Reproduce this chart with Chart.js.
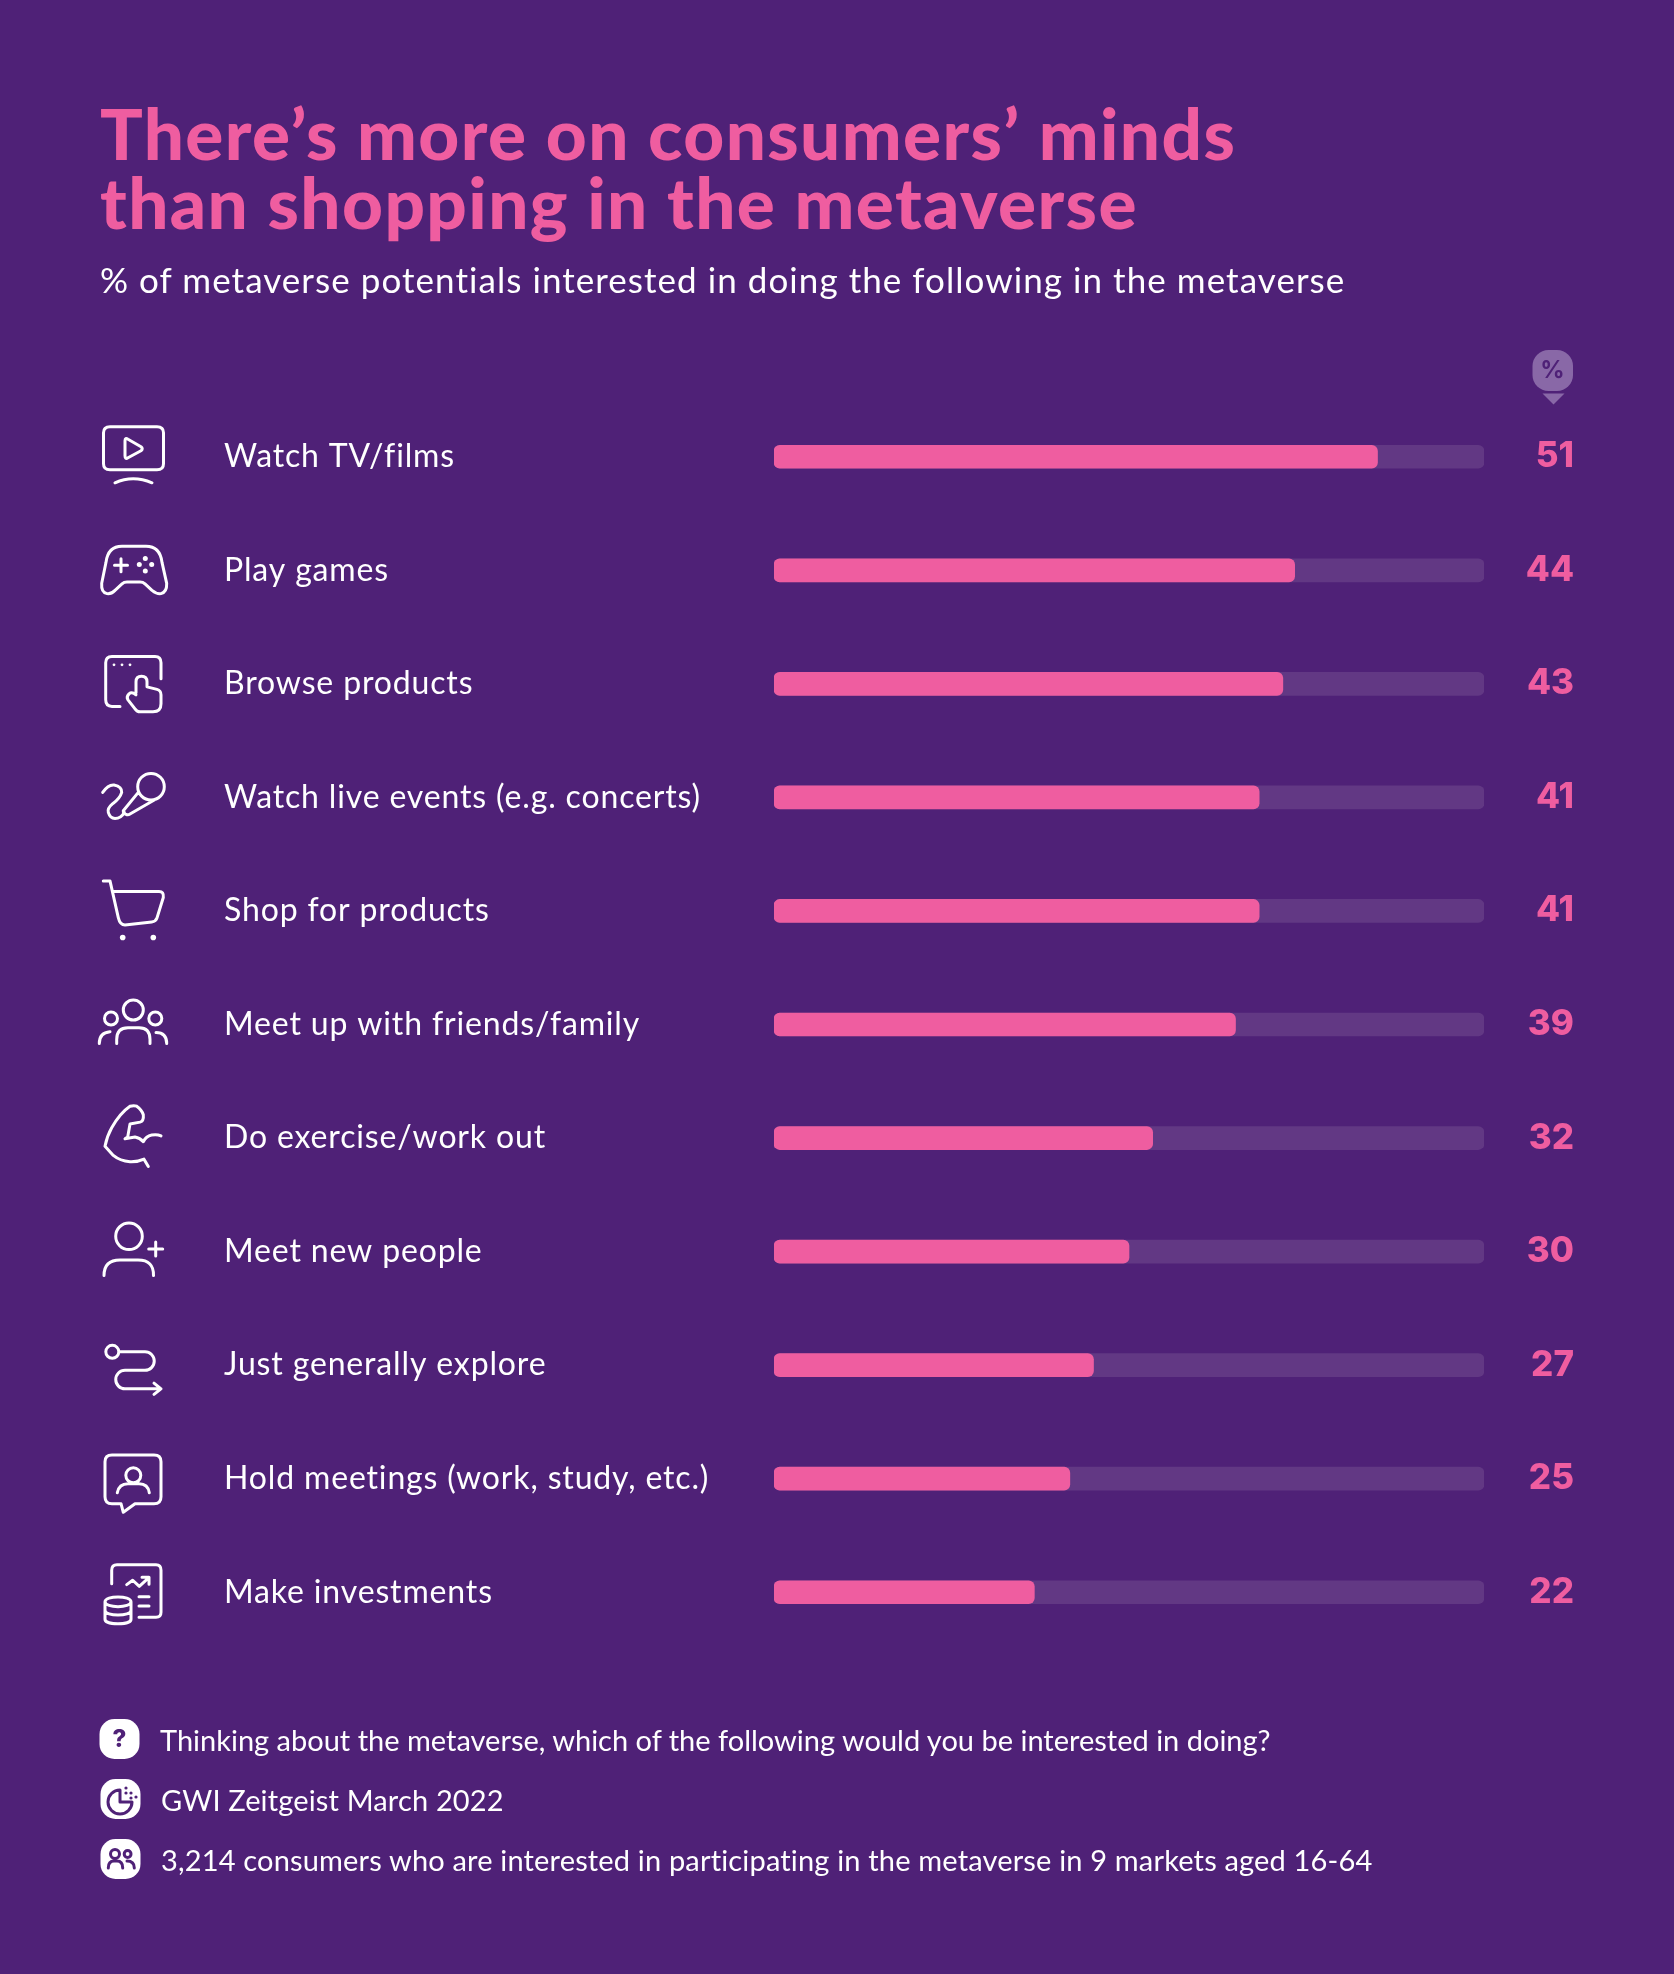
<!DOCTYPE html>
<html>
<head>
<meta charset="utf-8">
<script src="https://cdn.jsdelivr.net/npm/chart.js@4"></script>
<style>
body { margin: 0; background: #4f2177; }
#page { position: relative; width: 1674px; height: 1974px; overflow: hidden; background: #4f2177; color: #fff; font-family: Lato, sans-serif; }
canvas { position: absolute; left: 0; top: 0; }
h1 { position: absolute; left: 100px; top: 98px; margin: 0; font-size: 71px; line-height: 69px; letter-spacing: 1.4px; font-weight: 900; color: #ef5da0; white-space: nowrap; }
#sub { position: absolute; left: 100px; top: 256px; font-size: 35px; line-height: 46px; letter-spacing: 1.05px; white-space: nowrap; }
.note { position: absolute; left: 160px; font-size: 29px; line-height: 36px; white-space: nowrap; }
</style>
</head>
<body>
<div id="page">
<canvas id="chart" width="1674" height="1974"></canvas>
<h1>There’s more on consumers’ minds<br>than shopping in the metaverse</h1>
<div id="sub">% of metaverse potentials interested in doing the following in the metaverse</div>
<div class="note" style="top:1722px">Thinking about the metaverse, which of the following would you be interested in doing?</div>
<div class="note" style="top:1782px;left:161px;letter-spacing:0.15px">GWI Zeitgeist March 2022</div>
<div class="note" style="top:1842px;left:161px;letter-spacing:0.17px">3,214 consumers who are interested in participating in the metaverse in 9 markets aged 16-64</div>
</div>
<script>
var categories = ['Watch TV/films', 'Play games', 'Browse products', 'Watch live events (e.g. concerts)', 'Shop for products', 'Meet up with friends/family', 'Do exercise/work out', 'Meet new people', 'Just generally explore', 'Hold meetings (work, study, etc.)', 'Make investments'];
var values = [51, 44, 43, 41, 41, 39, 32, 30, 27, 25, 22];
var trackValues = [60, 60, 60, 60, 60, 60, 60, 60, 60, 60, 60];

// line icons, one per row, origin is x=100 and the row centre
var icons = [
    'M10,-30 H57 Q63.5,-30 63.5,-24 V7 Q63.5,13 57,13 H10 Q3.5,13 3.5,7 V-24 Q3.5,-30 10,-30 Z M25,-16 Q25,-19.5 28,-17.5 L41,-10 Q43.5,-8 41,-6 L28,1 Q25,3 25,-1 Z M15,26 Q33,18 52,26',
    'M7,23.3 Q1,22 1.7,13 L6,-8 Q8,-24 22,-24 H46 Q60,-24 62,-8 L66.7,13 Q67,22 61,23.3 Q57,24 52,20 L45,13.5 Q43,11.7 40,11.7 H27 Q24,11.7 22,13.5 L15,20 Q11,24 7,23.3 Z M14.5,-5 H27.5 M21,-11.5 V1.5',
    'M20,22.6 H12 Q5.7,22.6 5.7,16 V-21 Q5.7,-27.4 12,-27.4 H55 Q61,-27.4 61,-21 V-5 M36,9 V-2 Q36,-7.5 41.5,-7.5 Q47,-7.5 47,-2 V3 L57,5.5 Q61,6.5 61,11 V20 Q61,28 53,28 H40 Q37,28 35,25 L28,16 Q26,13 29,10 Q32,7.5 36,11',
    'M64.3,-10.7 A13.3,13.3 0 1 1 37.7,-10.7 A13.3,13.3 0 1 1 64.3,-10.7 Z M38.3,-5 L23.3,13.3 Q23,16 26,17 Q28,18 30,16.6 L56,1.6 M2.7,-5 Q8,-13 14,-12.5 Q22,-11 21.7,-5 Q20,1 13,6 Q7,11 8.3,15 Q10,21 15,21 Q21,21 24.3,15',
    'M3.3,-30 H10 L18.3,6.6 Q20,14 25,14 L51.7,11 Q56,10.5 57,7 L63.3,-13.4 Q64,-19.5 59,-19.5 H13.3',
    'M43.3,-14.5 A10,10 0 1 1 23.3,-14.5 A10,10 0 1 1 43.3,-14.5 Z M17.5,-6 A6.5,6.5 0 1 1 4.5,-6 A6.5,6.5 0 1 1 17.5,-6 Z M61.8,-6 A6.5,6.5 0 1 1 48.8,-6 A6.5,6.5 0 1 1 61.8,-6 Z M16.7,19 V15 Q16.7,3.2 28,3.2 H39 Q50,3.2 50,15 V19 M-0.7,19 Q-0.7,8 10,7.2 M56,8 Q66.7,8 66.7,19',
    'M48.3,28.5 L44,21.1 Q38,24 30,23.7 Q20,23 13.3,17.4 L5,8.2 Q7,-2 11.7,-10.3 Q20,-25 30,-31.8 Q34,-33 36.7,-31.8 Q42,-28 43.3,-23.3 Q44,-17 40,-15.9 L30,-14 L27.7,-1 L25,0.8 L35,-1 Q40,0 43.3,3.7 Q46,-2 51.7,-3 Q57,-4 61,-2.2',
    'M42.3,-15.3 A13.3,13.3 0 1 1 15.7,-15.3 A13.3,13.3 0 1 1 42.3,-15.3 Z M4,24 Q4,8.5 20,8.5 H38 Q54,8.5 53.5,24 M48.7,-2.7 H62.7 M55.7,-9.7 V4.3',
    'M18.8,-13.3 A6.5,6.5 0 1 1 5.8,-13.3 A6.5,6.5 0 1 1 18.8,-13.3 Z M19.3,-13.3 H45 A9.2,9.2 0 0 1 45,5.2 H25 A9.2,9.2 0 0 0 25,23.7 H61 M54,18 L61,23.7 L54,29.3',
    'M12,-23.7 H54 Q61,-23.7 61,-17 V18 Q61,25 54,25 H35 L23.3,33.6 L21,25 H12 Q5,25 5,18 V-17 Q5,-23.7 12,-23.7 Z M40.8,-3.4 A7.5,7.5 0 1 1 25.8,-3.4 A7.5,7.5 0 1 1 40.8,-3.4 Z M17.3,14 Q19,5 28,5 H39 Q48,5 49.3,14',
    'M11.7,-8.4 V-22 Q11.7,-27.6 17,-27.6 H56 Q61,-27.6 61,-22 V20 Q61,25 56,25 H39 M26.7,-7.6 L32.7,-12 L39.3,-5.8 L48.3,-14 M42,-15 H49 V-8 M39,4.6 H49 M39,13.8 H49 M5,9.6 C5,3 31,3 31,9.6 C31,16 5,16 5,9.6 V27 C5,33 31,33 31,27 V9.6 M5,18 C5,24.5 31,24.5 31,18'
];
// little filled dots that belong to the icons: row, x, y, radius
var iconDots = [
    [1, 39.3, -5.7, 2.5], [1, 45.3, -11.7, 2.5], [1, 51.7, -5.7, 2.5], [1, 45.3, 0.7, 2.5],
    [2, 14, -19, 1.4], [2, 22, -19, 1.4], [2, 30, -19, 1.4],
    [4, 22.7, 26.6, 2.8], [4, 53.3, 26.6, 2.8]
];

function dot(ctx, x, y, r) {
    ctx.beginPath();
    ctx.arc(x, y, r, 0, Math.PI * 2);
    ctx.fill();
}

var rowExtras = {
    id: 'rowExtras',
    beforeDraw: function (chart) {
        // stretches the tick labels a bit, Lato is narrower than the original font
        chart.ctx.letterSpacing = '0.85px';
    },
    afterDraw: function (chart) {
        var ctx = chart.ctx;
        var y = chart.scales.y;
        ctx.save();
        ctx.letterSpacing = '0px';
        // icons
        ctx.strokeStyle = '#fff';
        ctx.fillStyle = '#fff';
        ctx.lineWidth = 3;
        ctx.lineCap = 'round';
        ctx.lineJoin = 'round';
        icons.forEach(function (d, i) {
            ctx.save();
            ctx.translate(100, y.getPixelForValue(i));
            ctx.stroke(new Path2D(d));
            iconDots.forEach(function (p) {
                if (p[0] === i) dot(ctx, p[1], p[2], p[3]);
            });
            ctx.restore();
        });
        // value labels
        ctx.fillStyle = '#ef5da0';
        ctx.font = '800 35px Inter';
        ctx.textAlign = 'right';
        ctx.textBaseline = 'middle';
        values.forEach(function (v, i) {
            ctx.fillText(v, 1574, y.getPixelForValue(i));
        });
        // % badge above the value column
        ctx.fillStyle = '#8968a7';
        ctx.beginPath();
        ctx.roundRect(1532.5, 350, 40.5, 41, 16);
        ctx.fill();
        ctx.beginPath();
        ctx.moveTo(1542.5, 393.5);
        ctx.lineTo(1564.5, 393.5);
        ctx.lineTo(1553.5, 404.5);
        ctx.closePath();
        ctx.fill();
        ctx.fillStyle = '#4f2177';
        ctx.font = '700 24px Inter';
        ctx.textAlign = 'center';
        ctx.fillText('%', 1552.5, 371);
        // footer badges
        [[99.5, 1719], [100.5, 1779], [100.5, 1839]].forEach(function (b) {
            ctx.fillStyle = '#fff';
            ctx.beginPath();
            ctx.roundRect(b[0], b[1], 40, 40, 15);
            ctx.fill();
        });
        ctx.fillStyle = '#4f2177';
        ctx.strokeStyle = '#4f2177';
        ctx.font = '800 24px Inter';
        ctx.fillText('?', 119.5, 1740);
        ctx.lineWidth = 3;
        ctx.stroke(new Path2D('M120,1790 A12,12 0 1 0 132,1802 H120 Z'));
        [[126, 1788], [126, 1793], [131, 1793], [136, 1797], [131, 1798]].forEach(function (p) {
            dot(ctx, p[0], p[1], 1.6);
        });
        ctx.stroke(new Path2D('M119.5,1854 A4.5,4.5 0 1 1 110.5,1854 A4.5,4.5 0 1 1 119.5,1854 Z M131,1854 A3.4,3.4 0 1 1 124.2,1854 A3.4,3.4 0 1 1 131,1854 Z M108.3,1868 Q108.3,1861 114,1861 H117 Q122.7,1861 122.7,1868 M127,1861 Q134.3,1861 134.3,1868'));
        ctx.restore();
    }
};

new Chart(document.getElementById('chart'), {
    type: 'bar',
    data: {
        labels: categories,
        datasets: [
            { data: values, backgroundColor: '#ef5da0', borderRadius: 6, borderSkipped: false, barThickness: 23, order: 1 },
            { data: trackValues, backgroundColor: '#623884', borderRadius: 6, borderSkipped: false, barThickness: 23, order: 2 }
        ]
    },
    options: {
        indexAxis: 'y',
        responsive: false,
        animation: false,
        layout: { padding: { left: 224, right: 190, top: 400, bottom: 325 } },
        plugins: { legend: { display: false }, tooltip: { enabled: false } },
        datasets: { bar: { grouped: false } },
        scales: {
            x: { min: 0, max: 60, display: false },
            y: {
                afterFit: function (scale) { scale.width = 550; },
                border: { display: false },
                grid: { display: false },
                ticks: { color: '#fff', crossAlign: 'far', padding: 0, font: { family: 'Lato', size: 32 } }
            }
        }
    },
    plugins: [rowExtras]
});
</script>
</body>
</html>
